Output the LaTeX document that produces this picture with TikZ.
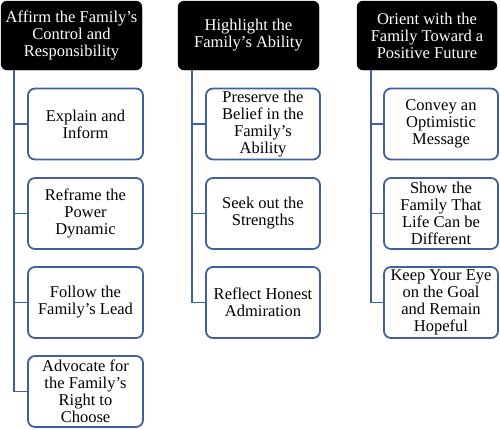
\documentclass[tikz,border=0pt]{standalone}
\usepackage{fontspec}
\setmainfont{Liberation Serif}
\definecolor{lineblue}{HTML}{3F5F9E}
\begin{document}
\begin{tikzpicture}[x=1pt,y=-1pt,
  head/.style={draw=black,fill=black,text=white,rounded corners=6pt,minimum width=141pt,minimum height=69pt,align=center,inner sep=0pt,font=\fontsize{16.5}{17}\selectfont},
  sub/.style={draw=lineblue,line width=1.8pt,fill=white,rounded corners=7pt,minimum width=114pt,minimum height=71pt,align=center,inner sep=0pt,font=\fontsize{16.5}{17}\selectfont},
  conn/.style={draw=lineblue,line width=1.8pt}]
\fill[white] (0,0) rectangle (500,429);
\useasboundingbox (0,0) rectangle (500,429);
% headers
\node[head] (h1) at (71.5,35.5) {Affirm the Family’s\\Control and\\Responsibility};
\node[head] (h2) at (248.5,35.5) {Highlight the\\Family’s Ability};
\node[head,minimum width=140pt] (h3) at (427,35.5) {Orient with the\\Family Toward a\\Positive Future};
% column 1
\node[sub,minimum width=115pt] (a1) at (85.5,124) {Explain and\\Inform};
\node[sub,minimum width=115pt] (a2) at (85.5,213.5) {Reframe the\\Power\\Dynamic};
\node[sub,minimum width=115pt] (a3) at (85.5,302.5) {Follow the\\Family’s Lead};
\node[sub,minimum width=115pt] (a4) at (85.5,391.5) {Advocate for\\the Family’s\\Right to\\Choose};
% column 2
\node[sub] (b1) at (263,124) {Preserve the\\Belief in the\\Family’s\\Ability};
\node[sub] (b2) at (263,213.5) {Seek out the\\Strengths};
\node[sub] (b3) at (263,302.5) {Reflect Honest\\Admiration};
% column 3
\node[sub] (c1) at (441,124) {Convey an\\Optimistic\\Message};
\node[sub] (c2) at (441,213.5) {Show the\\Family That\\Life Can be\\Different};
\node[sub] (c3) at (441,302.5) {Keep Your Eye\\on the Goal\\and Remain\\Hopeful};
% connectors
\coordinate (t1) at ([xshift=13pt]h1.south west);
\coordinate (t2) at ([xshift=14pt]h2.south west);
\coordinate (t3) at ([xshift=14pt]h3.south west);
\foreach \n in {a1,a2,a3,a4} \draw[conn] (t1) |- (\n.west);
\foreach \n in {b1,b2,b3} \draw[conn] (t2) |- (\n.west);
\foreach \n in {c1,c2,c3} \draw[conn] (t3) |- (\n.west);
\end{tikzpicture}
\end{document}
